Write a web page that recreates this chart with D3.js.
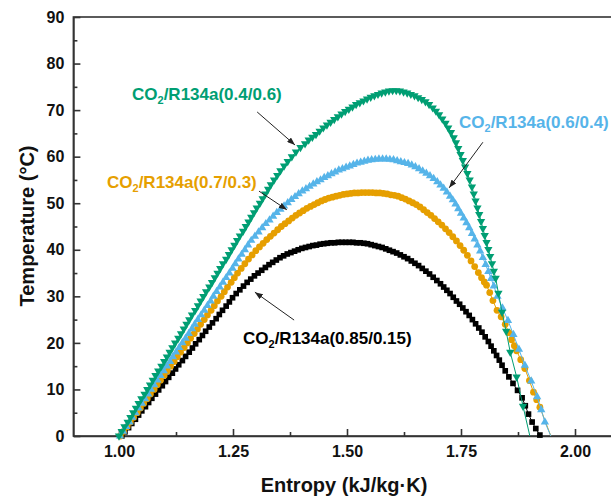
<!DOCTYPE html>
<html><head><meta charset="utf-8">
<script src="https://cdn.jsdelivr.net/npm/d3@7"></script>
<style>body{margin:0;background:#fff}svg{display:block;font-family:"Liberation Sans",Arial,sans-serif}</style>
</head><body><svg id="c" width="611" height="496"></svg>
<script>
// ---- tick values ----
const xTicks=[1.00,1.25,1.50,1.75,2.00];
const xMinor=[1.125,1.375,1.625,1.875];
const yTicks=[0,10,20,30,40,50,60,70,80,90];
const yMinor=[5,15,25,35,45,55,65,75,85];

// ---- series points [entropy kJ/kg·K, temperature °C] ----
// CO2/R134a(0.85/0.15) – black squares
const blackPts=[[1.006,0],[1.013,0.9],[1.021,1.8],[1.028,2.7],[1.036,3.6],[1.043,4.5],[1.050,5.4],[1.058,6.3],[1.065,7.2],[1.072,8.1],[1.080,9],[1.087,9.9],[1.095,10.8],[1.102,11.7],[1.109,12.6],[1.117,13.5],[1.124,14.4],[1.131,15.3],[1.139,16.2],[1.146,17.1],[1.154,18],[1.161,18.9],[1.168,19.8],[1.176,20.7],[1.183,21.6],[1.190,22.5],[1.198,23.4],[1.205,24.3],[1.213,25.2],[1.220,26.1],[1.227,27],[1.235,27.9],[1.242,28.8],[1.249,29.7],[1.257,30.6],
[1.265,31.4],[1.273,32.2],[1.281,33.0],[1.289,33.7],[1.297,34.4],[1.305,35.0],[1.313,35.6],[1.321,36.2],[1.329,36.8],[1.337,37.3],[1.345,37.8],[1.353,38.3],[1.361,38.7],[1.369,39.1],[1.377,39.4],[1.385,39.7],[1.393,40.0],[1.401,40.3],[1.409,40.5],[1.417,40.7],[1.425,40.9],[1.433,41.0],[1.441,41.2],[1.449,41.3],[1.457,41.4],[1.465,41.5],[1.473,41.5],[1.481,41.6],[1.489,41.6],[1.497,41.6],[1.505,41.6],[1.513,41.6],[1.521,41.5],[1.529,41.5],[1.537,41.4],[1.545,41.3],[1.553,41.1],[1.561,40.9],[1.569,40.7],[1.577,40.5],[1.585,40.2],[1.593,39.9],[1.601,39.6],[1.609,39.3],[1.617,38.9],[1.625,38.5],[1.633,38.1],[1.641,37.6],[1.649,37.1],[1.657,36.6],[1.665,36.0],[1.673,35.4],[1.681,34.8],[1.689,34.1],[1.697,33.4],[1.705,32.7],[1.712,32.0],[1.719,31.3],[1.726,30.6],[1.733,29.8],[1.740,29.0],[1.747,28.3],[1.754,27.5],[1.761,26.7],[1.768,25.9],[1.775,25.0],[1.782,24.1],[1.789,23.2],[1.796,22.3],[1.803,21.3],[1.810,20.3],[1.816,19.3],[1.822,18.3],[1.828,17.3],[1.834,16.3],[1.840,15.2],[1.847,14.0],[1.855,12.7],[1.864,11.3],[1.874,9.8],[1.884,8.2],[1.891,6.5],[1.898,4.7],[1.906,3.0],[1.914,1.6],[1.923,0.2]];

// CO2/R134a(0.7/0.3) – orange circles
const orangePts=[[1.003,0],[1.010,1],[1.018,2],[1.025,3],[1.032,4],[1.040,5],[1.047,6],[1.054,7],[1.062,8],[1.069,9],[1.077,10],[1.084,11],[1.091,12],[1.099,13],[1.106,14],[1.113,15],[1.121,16],[1.128,17],[1.135,18],[1.143,19],[1.150,20],[1.157,21],[1.165,22],[1.172,23],[1.179,24],[1.187,25],[1.194,26],[1.202,27],[1.209,28],[1.216,29],[1.224,30],[1.231,31],[1.238,32],[1.246,33],[1.253,34],[1.260,35],[1.268,36],
[1.276,37.0],[1.284,38.0],[1.292,38.9],[1.300,39.8],[1.308,40.6],[1.316,41.4],[1.324,42.2],[1.332,42.9],[1.340,43.6],[1.348,44.3],[1.356,45.0],[1.364,45.6],[1.372,46.2],[1.380,46.8],[1.388,47.4],[1.396,47.9],[1.404,48.4],[1.412,48.9],[1.420,49.3],[1.428,49.7],[1.436,50.1],[1.444,50.5],[1.452,50.8],[1.460,51.1],[1.468,51.3],[1.476,51.5],[1.484,51.7],[1.492,51.9],[1.500,52.0],[1.508,52.1],[1.516,52.2],[1.524,52.2],[1.532,52.3],[1.540,52.3],[1.548,52.3],[1.556,52.3],[1.564,52.2],[1.572,52.2],[1.580,52.1],[1.588,52.0],[1.596,51.8],[1.604,51.7],[1.612,51.5],[1.620,51.2],[1.628,50.9],[1.636,50.5],[1.644,50.1],[1.652,49.7],[1.660,49.2],[1.668,48.6],[1.676,48.0],[1.684,47.4],[1.692,46.7],[1.700,46.0],[1.708,45.3],[1.716,44.5],[1.724,43.7],[1.732,42.8],[1.740,41.9],[1.748,40.9],[1.756,39.9],[1.764,38.8],[1.772,37.6],[1.780,36.4],[1.788,35.1],[1.795,34.0],[1.801,33.1],[1.806,32.4],[1.813,30.8],[1.820,29.1],[1.829,27.0],[1.838,25.6],[1.847,24.0],[1.855,22.2],[1.861,20.7],[1.867,19.4],[1.872,18.3],[1.881,16.4],[1.890,14.5],[1.900,11.9],[1.909,9.4],[1.916,7.8],[1.923,6.2]];
const orangeEnd=[1.947,0];

// CO2/R134a(0.6/0.4) – blue up-triangles
const bluePts=[[1.002,0],[1.009,1],[1.016,2],[1.023,3],[1.029,4],[1.036,5],[1.043,6],[1.050,7],[1.057,8],[1.064,9],[1.070,10],[1.077,11],[1.084,12],[1.091,13],[1.098,14],[1.105,15],[1.112,16],[1.118,17],[1.125,18],[1.132,19],[1.139,20],[1.146,21],[1.153,22],[1.160,23],[1.166,24],[1.173,25],[1.180,26],[1.187,27],[1.194,28],[1.201,29],[1.207,30],[1.214,31],[1.221,32],[1.228,33],[1.235,34],[1.242,35],[1.249,36],[1.255,37],[1.262,38],[1.269,39],[1.276,40],[1.283,41],[1.290,42],
[1.298,42.9],[1.306,43.8],[1.314,44.7],[1.322,45.6],[1.330,46.4],[1.338,47.2],[1.346,48.0],[1.354,48.7],[1.362,49.4],[1.370,50.1],[1.378,50.8],[1.386,51.4],[1.394,52.0],[1.402,52.6],[1.410,53.1],[1.418,53.6],[1.426,54.1],[1.434,54.6],[1.442,55.0],[1.450,55.5],[1.458,55.9],[1.466,56.3],[1.474,56.7],[1.482,57.1],[1.490,57.4],[1.498,57.7],[1.506,58.0],[1.514,58.3],[1.522,58.6],[1.530,58.8],[1.538,59.0],[1.546,59.2],[1.554,59.3],[1.562,59.4],[1.570,59.5],[1.578,59.5],[1.586,59.5],[1.594,59.4],[1.602,59.3],[1.610,59.1],[1.618,58.9],[1.626,58.7],[1.634,58.5],[1.642,58.2],[1.650,57.8],[1.658,57.4],[1.666,56.9],[1.674,56.4],[1.682,55.9],[1.690,55.3],[1.698,54.6],[1.705,53.9],[1.712,53.2],[1.719,52.4],[1.726,51.5],[1.732,50.7],[1.738,49.8],[1.744,48.8],[1.750,47.8],[1.756,46.8],[1.762,45.8],[1.768,44.7],[1.774,43.5],[1.780,42.3],[1.786,41.0],[1.792,39.7],[1.798,38.3],[1.804,36.8],[1.810,35.3],[1.816,33.8],[1.822,32.2],[1.830,30.0],[1.841,27.5],[1.853,24.8],[1.865,21.8],[1.877,18.6],[1.890,15.2],[1.904,11.8],[1.917,8.4],[1.926,5.6],[1.934,3.0]];
const blueEnd=[1.947,0];

// CO2/R134a(0.4/0.6) – green down-triangles
const greenPts=[[1.000,0],[1.006,1],[1.012,2],[1.019,3],[1.025,4],[1.031,5],[1.037,6],[1.043,7],[1.049,8],[1.056,9],[1.062,10],[1.068,11],[1.074,12],[1.080,13],[1.086,14],[1.093,15],[1.099,16],[1.105,17],[1.111,18],[1.117,19],[1.123,20],[1.130,21],[1.136,22],[1.142,23],[1.148,24],[1.154,25],[1.160,26],[1.167,27],[1.173,28],[1.179,29],[1.185,30],[1.191,31],[1.198,32],[1.204,33],[1.210,34],[1.216,35],[1.222,36],[1.228,37],[1.235,38],[1.241,39],[1.247,40],[1.253,41],[1.259,42],[1.265,43],[1.272,44],[1.278,45],[1.284,46],[1.290,47],[1.296,48],[1.302,49],[1.309,50],[1.315,51],[1.321,52],[1.327,53],[1.333,54],[1.340,55],[1.347,56],
[1.354,57],[1.362,58],[1.370,59],[1.379,60],[1.388,61],[1.398,62],[1.408,62.8],[1.416,63.6],[1.424,64.2],[1.432,64.8],[1.440,65.5],[1.448,66.2],[1.456,66.8],[1.464,67.4],[1.472,68.0],[1.480,68.6],[1.488,69.2],[1.496,69.7],[1.504,70.2],[1.512,70.7],[1.520,71.2],[1.528,71.6],[1.536,72.0],[1.544,72.4],[1.552,72.8],[1.560,73.1],[1.568,73.4],[1.576,73.7],[1.584,73.9],[1.592,74.1],[1.600,74.2],[1.608,74.2],[1.616,74.1],[1.624,73.9],[1.632,73.7],[1.640,73.4],[1.648,73.1],[1.656,72.7],[1.664,72.3],[1.672,71.8],[1.680,71.2],[1.688,70.5],[1.695,69.8],[1.702,69.0],[1.709,68.1],[1.716,67.2],[1.722,66.2],[1.728,65.2],[1.734,64.1],[1.739,63.0],[1.744,61.8],[1.749,60.5],[1.754,59.2],[1.759,57.8],[1.764,56.4],[1.769,55.0],[1.774,53.5],[1.778,52.0],[1.782,50.5],[1.786,49.0],[1.790,47.6],[1.794,46.1],[1.798,44.6],[1.802,43.1],[1.806,41.6],[1.810,40.1],[1.814,38.6],[1.818,37.0],[1.822,35.4],[1.826,33.9],[1.832,30.7],[1.840,26.6],[1.849,22.5],[1.858,18.0],[1.872,12.7],[1.886,6.4]];
const greenEnd=[1.901,0];

// ---- labels / colours ----
const labels=["0.85/0.15","0.7/0.3","0.6/0.4","0.4/0.6"];
const colors=["#000000","#E69F00","#56B4E9","#009E73"];
// annotation arrows [from, to] in data units
const arrowPts=[
  [[1.303,69.6],[1.386,62.5]],
  [[1.798,63.1],[1.724,53.3]],
  [[1.384,24.9],[1.298,30.9]],
  [[1.307,52.6],[1.368,48.6]]
];

const svg=d3.select("#c");
const x=d3.scaleLinear().domain([0.9,2.1]).range([73.4,620.6]);
const y=d3.scaleLinear().domain([0,90]).range([436,17]);

svg.append("rect").attr("x",x(0.9)).attr("y",y(90)).attr("width",x(2.1)-x(0.9)).attr("height",y(0)-y(90))
  .attr("fill","none").attr("stroke","#333").attr("stroke-width",1.6);

function styleAxis(g){
  g.selectAll("path,line").attr("stroke","#333").attr("stroke-width",1.6);
  g.selectAll("text").attr("font-size",16).attr("font-weight","bold").attr("fill","#111")
   .attr("font-family","'Liberation Sans',Arial,sans-serif");
}
const gx=svg.append("g").attr("transform",`translate(0,${y(0)})`)
  .call(d3.axisBottom(x).tickValues(xTicks).tickFormat(d3.format(".2f")).tickSizeInner(-7).tickSizeOuter(0).tickPadding(10));
styleAxis(gx);
const gxm=svg.append("g").attr("transform",`translate(0,${y(0)})`)
  .call(d3.axisBottom(x).tickValues(xMinor).tickFormat("").tickSizeInner(-4).tickSizeOuter(0));
styleAxis(gxm); gxm.select(".domain").remove();
const gy=svg.append("g").attr("transform",`translate(${x(0.9)},0)`)
  .call(d3.axisLeft(y).tickValues(yTicks).tickFormat(d3.format("d")).tickSizeInner(-7).tickSizeOuter(0).tickPadding(9));
styleAxis(gy);
const gym=svg.append("g").attr("transform",`translate(${x(0.9)},0)`)
  .call(d3.axisLeft(y).tickValues(yMinor).tickFormat("").tickSizeInner(-4).tickSizeOuter(0));
styleAxis(gym); gym.select(".domain").remove();

svg.append("text").attr("x",(x(0.9)+x(2.1))/2-3).attr("y",492).attr("text-anchor","middle")
  .attr("font-size",20).attr("font-weight","bold").attr("fill","#111").text("Entropy (kJ/kg\u00B7K)");
svg.append("text").attr("transform",`translate(34,226) rotate(-90)`).attr("text-anchor","middle")
  .attr("font-size",20).attr("font-weight","bold").attr("fill","#111").text("Temperature (\u00B0C)");

const series=[
  {pts:blackPts, end:null, color:colors[0], sym:d3.symbolSquare, size:32, rot:0},
  {pts:orangePts, end:orangeEnd, color:colors[1], sym:d3.symbolCircle, size:36, rot:0},
  {pts:bluePts, end:blueEnd, color:colors[2], sym:d3.symbolTriangle, size:30, rot:0},
  {pts:greenPts, end:greenEnd, color:colors[3], sym:d3.symbolTriangle, size:30, rot:180},
];
const line=d3.line().x(d=>x(d[0])).y(d=>y(d[1]));
series.forEach(sr=>{
  const lp=sr.end?sr.pts.concat([sr.end]):sr.pts;
  svg.append("path").attr("d",line(lp)).attr("fill","none").attr("stroke",sr.color).attr("stroke-width",1);
  svg.append("g").selectAll("path").data(sr.pts).join("path")
    .attr("d",d3.symbol().type(sr.sym).size(sr.size))
    .attr("transform",d=>`translate(${x(d[0])},${y(d[1])}) rotate(${sr.rot})`)
    .attr("fill",sr.color);
});

const defs=svg.append("defs");
defs.append("marker").attr("id","ah").attr("viewBox","0 0 10 10").attr("refX",10).attr("refY",5)
  .attr("markerWidth",8).attr("markerHeight",6).attr("markerUnits","userSpaceOnUse")
  .attr("preserveAspectRatio","none").attr("orient","auto")
  .append("path").attr("d","M0,0L10,5L0,10z").attr("fill","#222");
arrowPts.forEach(a=>{
  svg.append("line").attr("x1",x(a[0][0])).attr("y1",y(a[0][1])).attr("x2",x(a[1][0])).attr("y2",y(a[1][1]))
    .attr("stroke","#222").attr("stroke-width",1).attr("marker-end","url(#ah)");
});

function label(px,py,color,txt){
  const t=svg.append("text").attr("x",px).attr("y",py).attr("fill",color).attr("font-size",17).attr("font-weight","bold");
  t.append("tspan").text("CO");
  t.append("tspan").attr("font-size",11).attr("dy",4).text("2");
  t.append("tspan").attr("dy",-4).text("/R134a("+txt+")");
}
label(132,100,colors[3],labels[3]);
label(107,188,colors[1],labels[1]);
label(459,128,colors[2],labels[2]);
label(243,344,colors[0],labels[0]);
</script></body></html>
